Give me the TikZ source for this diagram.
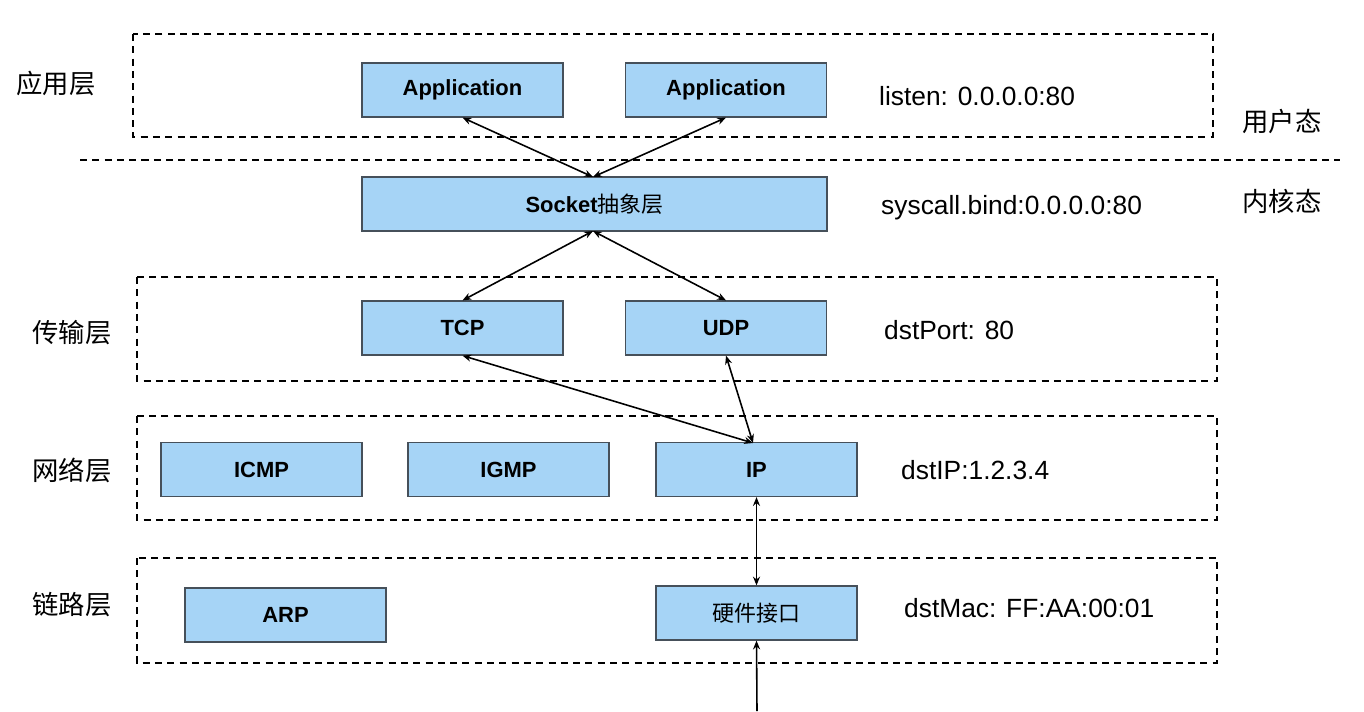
\documentclass[tikz,border=0pt]{standalone}
\usepackage{fontspec}
\setmainfont{Liberation Sans}
\newfontfamily\cjk{Noto Sans CJK SC}
\usetikzlibrary{arrows.meta}
\definecolor{boxblue}{RGB}{166,212,246}
\definecolor{boxline}{RGB}{70,80,90}
\tikzset{
  px/.style={x=0.02cm,y=-0.02cm},
  blk/.style={draw=boxline,line width=0.7pt,fill=boxblue,minimum width=4.02cm,minimum height=1.08cm,inner sep=0pt,font=\fontsize{12.5}{14}\selectfont\bfseries},
  layer/.style={draw=black,line width=0.8pt,dash pattern=on 4pt off 3pt},
  lbl/.style={font=\cjk\fontsize{15}{17}\selectfont},
  note/.style={anchor=west,font=\fontsize{15}{18}\selectfont},
  link/.style={line width=0.9pt,{Stealth[length=5pt,width=4pt]}-{Stealth[length=5pt,width=4pt]}},
  onearrow/.style={line width=0.9pt,-{Stealth[length=5pt,width=4pt]}}
}
\begin{document}
\begin{tikzpicture}[px]
\useasboundingbox (0,0) rectangle (1364,711);
% layer frames
\draw[layer] (133,34) rectangle (1213,137);
\draw[layer] (80,160) -- (1340,160);
\draw[layer] (137,277) rectangle (1217,381);
\draw[layer] (137,416) rectangle (1217,520);
\draw[layer] (137,558) rectangle (1217,663);
% left labels
\node[lbl] (l1) at (56,83) {应用层};
\node[lbl] (l2) at (72,333) {传输层};
\node[lbl] (l3) at (72,470) {网络层};
\node[lbl] (l4) at (72,605) {链路层};
\node[lbl] (u) at (1282,121) {用户态};
\node[lbl] (k) at (1282,201) {内核态};
% boxes
\node[blk] (app1) at (462.5,90) {Application};
\node[blk] (app2) at (726,90) {Application};
\node[blk,minimum width=9.3cm] (sock) at (594.5,204) {Socket{\cjk\mdseries 抽象层}};
\node[blk] (tcp) at (462.5,328) {TCP};
\node[blk] (udp) at (726,328) {UDP};
\node[blk] (icmp) at (261.5,469.5) {ICMP};
\node[blk] (igmp) at (508.5,469.5) {IGMP};
\node[blk] (ip) at (756.5,469.5) {IP};
\node[blk] (arp) at (285.5,615) {ARP};
\node[blk] (hw) at (756.5,613) {\cjk\mdseries 硬件接口};
% notes
\node[note] (n1) at (873,96) {listen: 0.0.0.0:80};
\node[note] (n2) at (875,208) {syscall.bind:0.0.0.0:80};
\node[note] (n3) at (878,330) {dstPort: 80};
\node[note] (n4) at (895,470) {dstIP:1.2.3.4};
\node[note] (n5) at (898,608) {dstMac: FF:AA:00:01};
% connectors
\coordinate (sockTop) at (593,177);
\coordinate (sockBot) at (593,231);
\coordinate (ipTop) at (753,443);
\coordinate (src) at (757,711);
\draw[link] (app1.south) -- (sockTop);
\draw[link] (app2.south) -- (sockTop);
\draw[link] (sockBot) -- (tcp.north);
\draw[link] (sockBot) -- (udp.north);
\draw[link] (tcp.south) -- (ipTop);
\draw[link] (udp.south) -- (ipTop);
\draw[link] (ip.south) -- (hw.north);
\draw[onearrow] (src) -- (hw.south);
\end{tikzpicture}
\end{document}
